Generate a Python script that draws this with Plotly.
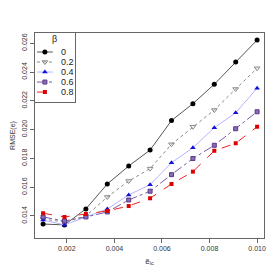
import plotly.graph_objects as go

x_vals = [0.001, 0.0019, 0.0028, 0.0037, 0.0046, 0.0055, 0.0064, 0.0073, 0.0082, 0.0091, 0.010]
beta_labels = ["0", "0.2", "0.4", "0.6", "0.8"]
rmse_b0 = [0.01344, 0.01338, 0.01449, 0.01622, 0.01747, 0.01858, 0.02063, 0.02180, 0.02315, 0.02469, 0.02622]
rmse_b02 = [0.01379, 0.01358, 0.01400, 0.01532, 0.01643, 0.01729, 0.01898, 0.02020, 0.02136, 0.02282, 0.02426]
rmse_b04 = [0.01372, 0.01338, 0.01393, 0.01449, 0.01546, 0.01617, 0.01770, 0.01874, 0.02013, 0.02117, 0.02287]
rmse_b06 = [0.01393, 0.01365, 0.01393, 0.01428, 0.01511, 0.01572, 0.01687, 0.01799, 0.01891, 0.02006, 0.02124]
rmse_b08 = [0.01419, 0.01393, 0.01414, 0.01435, 0.01469, 0.01523, 0.01622, 0.01708, 0.01853, 0.01905, 0.02020]
x_ticks = [0.002, 0.004, 0.006, 0.008, 0.010]
x_ticklabels = ["0.002", "0.004", "0.006", "0.008", "0.010"]
y_ticks = [0.014, 0.016, 0.018, 0.020, 0.022, 0.024, 0.026]
y_ticklabels = ["0.014", "0.016", "0.018", "0.020", "0.022", "0.024", "0.026"]

series = [
    (rmse_b0, dict(color="#555555", width=1, dash="solid"),
     dict(symbol="circle", color="black", size=5)),
    (rmse_b02, dict(color="#888888", width=1, dash="dot"),
     dict(symbol="triangle-down-open", color="#888888", size=5, line=dict(width=1))),
    (rmse_b04, dict(color="#b4b4ff", width=1, dash="solid"),
     dict(symbol="triangle-up", color="#1010dd", size=5)),
    (rmse_b06, dict(color="#7a5aa8", width=1, dash="dashdot"),
     dict(symbol="square", color="#8a6ab8", size=4, line=dict(color="#5a3a88", width=1))),
    (rmse_b08, dict(color="#ee2222", width=1, dash="dash"),
     dict(symbol="square", color="#dd0000", size=4)),
]

fig = go.Figure()
for lab, (ys, ln, mk) in zip(beta_labels, series):
    fig.add_trace(go.Scatter(x=x_vals, y=ys, mode="lines+markers", name=lab,
                             line=ln, marker=mk, showlegend=False))

# Compact R-style legend drawn in its own small axis frame (0..1 units)
leg_top, leg_step = 0.725, 0.145
for i, (lab, (ys, ln, mk)) in enumerate(zip(beta_labels, series)):
    yy = leg_top - i * leg_step
    fig.add_trace(go.Scatter(x=[0.05, 0.45], y=[yy, yy], mode="lines", line=ln,
                             xaxis="x2", yaxis="y2", showlegend=False, hoverinfo="skip"))
    fig.add_trace(go.Scatter(x=[0.25], y=[yy], mode="markers", marker=mk,
                             xaxis="x2", yaxis="y2", showlegend=False, hoverinfo="skip"))
    fig.add_annotation(x=0.6, y=yy, xref="x2", yref="y2", text=lab, showarrow=False,
                       xanchor="left", yanchor="middle",
                       font=dict(size=9, color="#222222"))
fig.add_annotation(x=0.5, y=0.92, xref="x2", yref="y2", text="β", showarrow=False,
                   xanchor="center", yanchor="middle", font=dict(size=9, color="#222222"))

axis_common = dict(showline=True, mirror=True, linecolor="#666666", linewidth=1,
                   ticks="outside", ticklen=4, tickcolor="#666666",
                   showgrid=False, zeroline=False,
                   tickfont=dict(family="Liberation Sans, Arial", size=7, color="#333333"))

leg_frame = dict(range=[0, 1], showline=True, mirror=True, linecolor="#666666",
                 linewidth=1, showticklabels=False, ticks="", showgrid=False,
                 zeroline=False, fixedrange=True)

fig.update_layout(
    width=280, height=280,
    margin=dict(l=33, r=16, t=33, b=42),
    paper_bgcolor="white", plot_bgcolor="white",
    font=dict(family="Liberation Sans, Arial", size=8, color="#333333"),
    xaxis=dict(range=[0.00066, 0.01029], tickvals=x_ticks, ticktext=x_ticklabels,
               title=dict(text="ẽ<sub>ic</sub>", font=dict(size=8), standoff=6),
               **axis_common),
    yaxis=dict(range=[0.01247, 0.02671], tickvals=y_ticks, ticktext=y_ticklabels,
               tickangle=-90,
               title=dict(text="RMSE(e)", font=dict(size=7), standoff=4),
               **axis_common),
    xaxis2=dict(domain=[0, 0.173], anchor="y2", **leg_frame),
    yaxis2=dict(domain=[0.663, 1], anchor="x2", **leg_frame),
)

fig.write_html("out.html", config={"displayModeBar": False},
               post_script="document.body.style.margin='0';")
